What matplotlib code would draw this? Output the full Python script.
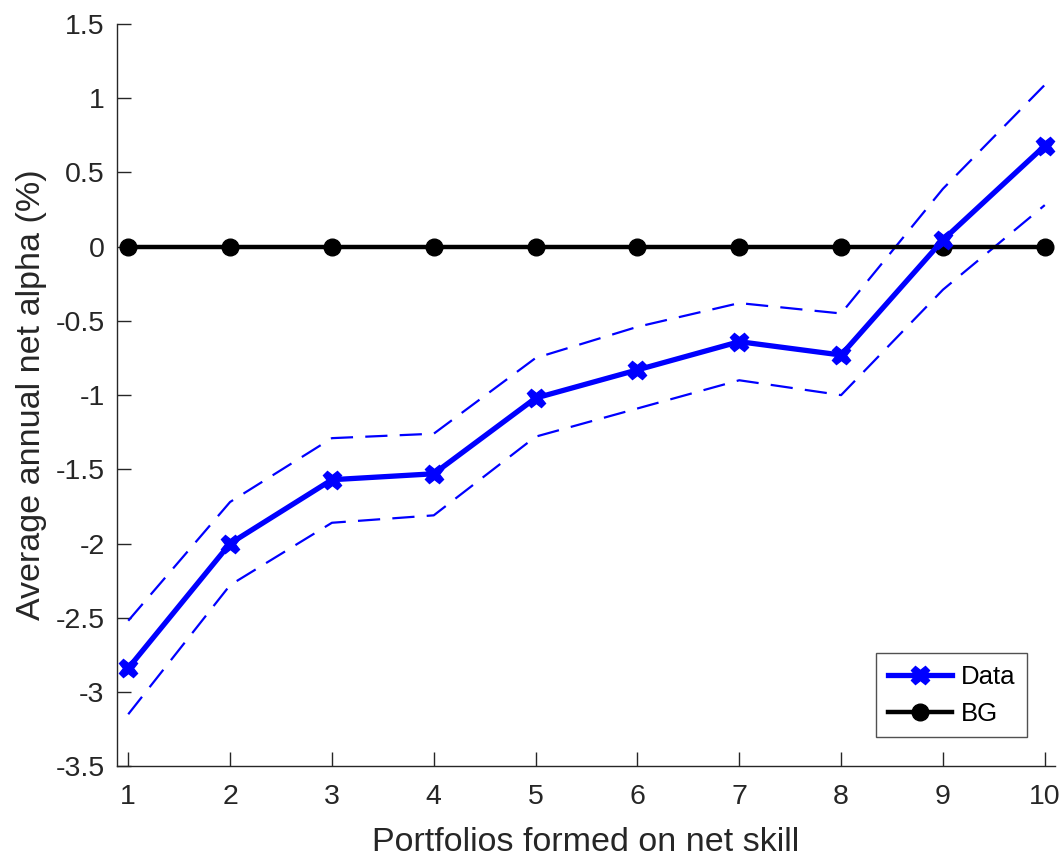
import matplotlib
matplotlib.use("Agg")
import matplotlib.pyplot as plt
import numpy as np

plt.rcParams['font.family'] = ['Liberation Sans', 'DejaVu Sans']

portfolios = np.arange(1, 11)
alpha = [-2.84, -2.00, -1.57, -1.53, -1.02, -0.83, -0.64, -0.73, 0.045, 0.68]
upper = [-2.52, -1.72, -1.29, -1.26, -0.75, -0.54, -0.38, -0.45, 0.39, 1.09]
lower = [-3.15, -2.28, -1.86, -1.81, -1.28, -1.09, -0.90, -1.00, -0.29, 0.28]
bg = [0, 0, 0, 0, 0, 0, 0, 0, 0, 0]

axcol = '#262626'

fig = plt.figure(figsize=(10.64, 8.58), dpi=100)
ax = fig.add_axes([0.110, 0.107, 0.8815, 0.865])

ax.plot(portfolios, upper, color='blue', lw=1.6, dashes=(10, 5.5))
ax.plot(portfolios, lower, color='blue', lw=1.6, dashes=(10, 5.5))
ax.plot(portfolios, bg, color='black', lw=3.2, marker='o', markersize=12, label='BG', zorder=3)
ax.plot(portfolios, alpha, color='blue', lw=3.8, marker='X', markersize=13, mew=1.0, label='Data', zorder=4)

ax.set_xlim(0.89, 10.1)
ax.set_ylim(-3.5, 1.5)
ax.set_xticks(portfolios)
ax.set_yticks(np.arange(-3.5, 1.51, 0.5))
ax.set_yticklabels(['-3.5', '-3', '-2.5', '-2', '-1.5', '-1', '-0.5', '0', '0.5', '1', '1.5'])

for s in ['top', 'right']:
    ax.spines[s].set_visible(False)
for s in ['left', 'bottom']:
    ax.spines[s].set_color(axcol)
    ax.spines[s].set_linewidth(1.0)
ax.tick_params(direction='in', length=10, width=1.0, colors=axcol, labelsize=20.5)
ax.tick_params(axis='x', pad=13)
ax.tick_params(axis='y', pad=9)

ax.set_xlabel('Portfolios formed on net skill', fontsize=24.5, color=axcol, labelpad=12)
ax.set_ylabel('Average annual net alpha (%)', fontsize=24.5, color=axcol, labelpad=6)

handles, labels = ax.get_legend_handles_labels()
leg = ax.legend(handles[::-1], labels[::-1], loc='lower right', fontsize=18.5, frameon=True,
                fancybox=False, edgecolor=axcol, handlelength=2.5, borderpad=0.45,
                labelspacing=0.5, handletextpad=0.35, borderaxespad=0,
                bbox_to_anchor=(0.970, 0.039))
leg.get_frame().set_linewidth(1.0)

fig.savefig('out.png', dpi=100)
